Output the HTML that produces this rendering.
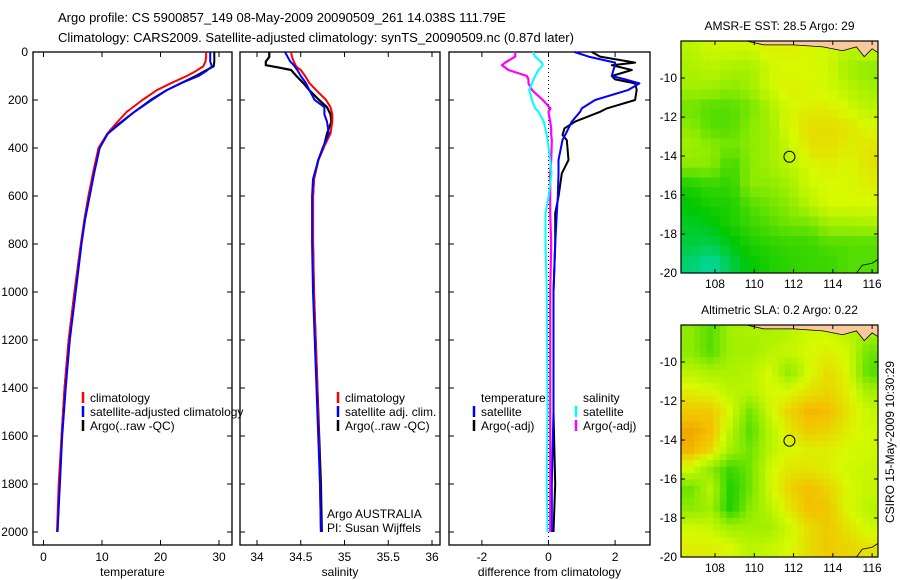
<!DOCTYPE html>
<html><head><meta charset="utf-8"><style>
html,body{margin:0;padding:0;background:#fff;}
svg{display:block;font-family:"Liberation Sans",sans-serif;}
</style></head><body>
<svg id="fig" width="900" height="580" viewBox="0 0 900 580" xmlns="http://www.w3.org/2000/svg">
<defs>
<clipPath id="clip-sst-map"><rect x="681" y="41" width="197" height="232"/></clipPath>
<clipPath id="clip-sla-map"><rect x="681" y="325" width="197" height="232"/></clipPath>
</defs>
<text x="58" y="22" font-size="13">Argo profile: CS 5900857_149 08-May-2009 20090509_261 14.038S 111.79E</text>
<text x="58" y="42" font-size="13">Climatology: CARS2009. Satellite-adjusted climatology: synTS_20090509.nc (0.87d later)</text>
<g id="g"></g>
</svg>
<script>
// ---- profile data ----
const tempDepth = [0,20,40,60,80,100,130,160,200,250,300,340,400,500,600,700,800,1000,1200,1400,1600,1800,2000];
const argoTemp = [29.2,29.2,29.2,29.1,27.5,26,23.5,21,18.3,15.5,13,11,9.5,8.6,7.7,7,6.4,5.3,4.3,3.6,3.1,2.7,2.4];
const climTemp = [27.8,27.8,27.7,27.3,26.0,24.5,21.8,19.3,16.9,14.2,12.3,10.9,9.4,8.5,7.7,7,6.4,5.3,4.3,3.6,3.1,2.6,2.3];
const satTemp = [28.5,28.5,28.5,28.8,27.8,26.5,23.5,21,18.5,15.5,12.8,11,9.6,8.7,7.9,7.1,6.5,5.5,4.5,3.8,3.2,2.8,2.4];
const salDepth = [0,20,40,55,65,75,100,130,160,200,230,260,290,340,400,450,530,600,800,1000,1400,1800,2000];
const argoSal = [34.14,34.14,34.1,34.1,34.25,34.39,34.45,34.53,34.6,34.71,34.8,34.84,34.85,34.8,34.76,34.7,34.65,34.64,34.64,34.65,34.69,34.73,34.74];
const climSal = [34.39,34.4,34.42,34.44,34.46,34.5,34.55,34.6,34.68,34.79,34.84,34.86,34.86,34.84,34.76,34.7,34.65,34.64,34.64,34.65,34.69,34.72,34.73];
const satSal = [34.32,34.35,34.38,34.42,34.44,34.46,34.5,34.56,34.6,34.66,34.77,34.77,34.8,34.82,34.75,34.7,34.64,34.63,34.63,34.64,34.68,34.72,34.73];
const diffDepth = [0,19,44,55,75,100,114,131,158,200,235,249,290,318,346,367,450,506,603,672,800,1000,1500,1800,2000];
const argoDiffT = [1.3,1.55,2.6,1.9,2.5,1.9,2.0,2.6,2.65,2.6,1.75,1.55,0.8,0.48,0.42,0.55,0.6,0.4,0.3,0.2,0.2,0.15,0.15,0.2,0.15];
const satDiffT = [0.78,1.2,2.0,2.0,1.95,1.9,2.3,2.73,2.4,1.4,1.0,0.95,0.7,0.6,0.5,0.42,0.3,0.3,0.28,0.25,0.2,0.15,0.15,0.1,0.1];
const argoDiffS = [-1.0,-1.0,-1.3,-1.4,-1.2,-0.65,-0.6,-0.6,-0.5,-0.17,0.06,0.0,0.05,0.08,0.08,0.1,0.08,0.05,0.05,0.05,0.08,0.05,0.05,0.05,0.05];
const satDiffS = [-0.47,-0.4,-0.2,-0.17,-0.3,-0.4,-0.45,-0.5,-0.58,-0.5,-0.4,-0.3,-0.14,-0.1,-0.05,-0.03,0.05,0.09,0.0,-0.09,-0.09,-0.05,-0.03,-0.05,-0.03];
const depthTicks = [0,200,400,600,800,1000,1200,1400,1600,1800,2000];
const tempTicks = [0,10,20,30];
const salTicks = [34,34.5,35,35.5,36];
const diffTicks = [-2,0,2];
// ---- map data (rows: lat -8.5..-19.5, cols: lon 106.8..115.8) ----
const mapLats = [-8.5,-9.5,-10.5,-11.5,-12.5,-13.5,-14.5,-15.5,-16.5,-17.5,-18.5,-19.5];
const mapLons = [106.8,107.8,108.8,109.8,110.8,111.8,112.8,113.8,114.8,115.8];
const sstGrid = [
[0.65,0.7,0.7,0.7,0.75,0.75,0.72,0.7,0.65,0.7],
[0.62,0.65,0.62,0.6,0.7,0.72,0.72,0.7,0.6,0.55],
[0.6,0.6,0.55,0.6,0.7,0.75,0.72,0.7,0.65,0.6],
[0.5,0.45,0.45,0.5,0.62,0.72,0.75,0.75,0.7,0.65],
[0.55,0.45,0.45,0.55,0.6,0.72,0.8,0.8,0.78,0.72],
[0.6,0.55,0.5,0.55,0.6,0.68,0.78,0.8,0.75,0.78],
[0.55,0.55,0.4,0.55,0.6,0.65,0.72,0.75,0.72,0.78],
[0.35,0.4,0.38,0.55,0.55,0.6,0.7,0.72,0.72,0.75],
[0.3,0.35,0.35,0.45,0.5,0.55,0.65,0.72,0.72,0.72],
[0.25,0.28,0.35,0.4,0.45,0.5,0.5,0.6,0.6,0.62],
[0.22,0.2,0.28,0.35,0.38,0.4,0.4,0.45,0.45,0.45],
[0.15,0.08,0.2,0.3,0.35,0.38,0.4,0.4,0.45,0.45]];
const slaGrid = [
[0.55,0.45,0.6,0.62,0.62,0.65,0.7,0.7,0.65,0.6],
[0.55,0.45,0.6,0.6,0.65,0.68,0.72,0.75,0.7,0.5],
[0.65,0.62,0.62,0.65,0.72,0.55,0.72,0.8,0.72,0.45],
[0.75,0.72,0.65,0.65,0.72,0.72,0.78,0.82,0.75,0.6],
[0.85,0.85,0.72,0.5,0.7,0.82,0.9,0.88,0.78,0.68],
[0.92,0.88,0.65,0.45,0.65,0.78,0.85,0.82,0.75,0.7],
[0.9,0.82,0.6,0.5,0.65,0.72,0.75,0.75,0.72,0.7],
[0.7,0.55,0.4,0.5,0.7,0.78,0.78,0.75,0.7,0.68],
[0.5,0.65,0.35,0.5,0.7,0.82,0.88,0.82,0.72,0.68],
[0.55,0.6,0.35,0.55,0.65,0.78,0.88,0.85,0.72,0.65],
[0.7,0.68,0.6,0.6,0.6,0.7,0.8,0.85,0.78,0.7],
[0.75,0.75,0.72,0.65,0.68,0.72,0.8,0.85,0.82,0.78]];
const latTicks = [-10,-12,-14,-16,-18,-20];
const lonTicks = [108,110,112,114,116];
const argoLon = 111.79, argoLat = -14.038;

const NS='http://www.w3.org/2000/svg';
const G=document.getElementById('g');
function mk(tag,attrs,parent){const e=document.createElementNS(NS,tag);for(const k in attrs)e.setAttribute(k,attrs[k]);(parent||G).appendChild(e);return e;}
function txt(x,y,s,attrs,parent){const e=mk('text',Object.assign({x:x,y:y,'font-size':12},attrs||{}),parent);e.textContent=s;return e;}

const TOP=52,BOT=545;
function yD(d){return TOP+d*0.24;}

function panel(name,L,R,x0,pxPerUnit,xt,fmt,label){
  const g=mk('g',{});
  
  
  const xs=v=>x0+v*pxPerUnit;
  const fr=mk('rect',{x:L,y:TOP,width:R-L,height:BOT-TOP,fill:'none',stroke:'#000','stroke-width':1.3},g);
  
  
  depthTicks.forEach(d=>{
    mk('line',{x1:L,x2:L+5,y1:yD(d),y2:yD(d),stroke:'#000'},g);
    mk('line',{x1:R-5,x2:R,y1:yD(d),y2:yD(d),stroke:'#000'},g);
  });
  xt.forEach(v=>{
    const x=xs(v);
    mk('line',{x1:x,x2:x,y1:BOT,y2:BOT-5,stroke:'#000'},g);
    mk('line',{x1:x,x2:x,y1:TOP,y2:TOP+5,stroke:'#000'},g);
    const t=txt(x,561,fmt(v),{'text-anchor':'middle'},g);
    
    
  });
  const al=txt((L+R)/2,576,label,{'text-anchor':'middle'},g);
  
  
  return {g:g,xs:xs};
}
function line(p,depths,vals,color,w,name){
  const pts=depths.map((d,i)=>p.xs(vals[i]).toFixed(1)+','+yD(d).toFixed(1)).join(' ');
  const e=mk('polyline',{points:pts,fill:'none',stroke:color,'stroke-width':w,'stroke-linejoin':'round'},p.g);
  
  
}
function legend(p,x,y,color,label,name){
  const l=mk('line',{x1:x,x2:x,y1:y-10,y2:y+1,stroke:color,'stroke-width':2.5},p.g);
  
  
  const t=txt(x+7,y,label,{},p.g);
  
  
}

depthTicks.forEach(d=>{
  const t=txt(28,yD(d)+4,String(d),{'text-anchor':'end'});
  
  
});

const p1=panel('temperature-panel',33,232,43.5,5.85,tempTicks,v=>String(v),'temperature');
line(p1,tempDepth,argoTemp,'#000',2,'argo-temperature-line');
line(p1,tempDepth,climTemp,'#f00',2,'climatology-temperature-line');
line(p1,tempDepth,satTemp,'#00f',2,'satellite-temperature-line');
legend(p1,83,402,'#f00','climatology','legend-climatology');
legend(p1,83,416,'#00f','satellite-adjusted climatology','legend-satellite-adjusted');
legend(p1,83,430,'#000','Argo(..raw -QC)','legend-argo');

const p2=panel('salinity-panel',240,440,257-34*87.5,87.5,salTicks,v=>String(v),'salinity');
line(p2,salDepth,argoSal,'#000',2.2,'argo-salinity-line');
line(p2,salDepth,climSal,'#f00',2,'climatology-salinity-line');
line(p2,salDepth,satSal,'#00f',2,'satellite-salinity-line');
legend(p2,338,402,'#f00','climatology','legend-sal-climatology');
legend(p2,338,416,'#00f','satellite adj. clim.','legend-sal-satellite');
legend(p2,338,430,'#000','Argo(..raw -QC)','legend-sal-argo');
let t=txt(327,518,'Argo AUSTRALIA',{},p2.g);
t=txt(327,532,'PI: Susan Wijffels',{},p2.g);

const p3=panel('difference-panel',449,650,548.5,33.3,diffTicks,v=>String(v),'difference from climatology');
const zl=mk('line',{x1:548.5,x2:548.5,y1:TOP,y2:BOT,stroke:'#000','stroke-dasharray':'1,3'},p3.g);


line(p3,diffDepth,argoDiffT,'#000',2,'argo-temp-diff-line');
line(p3,diffDepth,satDiffT,'#00f',2,'satellite-temp-diff-line');
line(p3,diffDepth,argoDiffS,'#f0f',2.2,'argo-sal-diff-line');
line(p3,diffDepth,satDiffS,'#0ff',2,'satellite-sal-diff-line');
t=txt(481,402,'temperature',{},p3.g);
t=txt(583,402,'salinity',{},p3.g);
legend(p3,474,416,'#00f','satellite','legend-diff-temp-satellite');
legend(p3,474,430,'#000','Argo(-adj)','legend-diff-temp-argo');
legend(p3,576,416,'#0ff','satellite','legend-diff-sal-satellite');
legend(p3,576,430,'#f0f','Argo(-adj)','legend-diff-sal-argo');

function cmap(v){
  const stops=[[0,[0,220,225]],[0.3,[0,200,0]],[0.55,[140,235,0]],[0.72,[215,250,0]],[0.88,[245,190,0]],[1,[230,120,0]]];
  v=Math.max(0,Math.min(1,v));
  for(let i=1;i<stops.length;i++){if(v<=stops[i][0]){const a=stops[i-1],b=stops[i];const f=(v-a[0])/(b[0]-a[0]);
    return 'rgb('+a[1].map((c,k)=>Math.round(c+(b[1][k]-c)*f)).join(',')+')';}}
  return 'rgb(230,120,0)';
}
function sample(grid,lon,lat){
  let fx=(lon-mapLons[0]), fy=(mapLats[0]-lat);
  fx=Math.max(0,Math.min(mapLons.length-1.001,fx)); fy=Math.max(0,Math.min(mapLats.length-1.001,fy));
  const i=Math.floor(fy),j=Math.floor(fx),a=fy-i,b=fx-j;
  return grid[i][j]*(1-a)*(1-b)+grid[i][j+1]*(1-a)*b+grid[i+1][j]*a*(1-b)+grid[i+1][j+1]*a*b;
}
function map(name,top,bottom,grid,title,step){
  const L=681,R=878;
  const g=mk('g',{});
  
  
  const cg=mk('g',{'clip-path':'url(#clip-'+name+')'},g);
  
  
  const pxDeg=(bottom-top)/11.9;
  const xs=lon=>L+(lon-106.27)*((R-L)/10.03);
  const ys=lat=>top+(-8.1-lat)*pxDeg;
  for(let lat=-8.1;lat>-20;lat-=step){
    for(let lon=106.27;lon<116.3;lon+=step){
      const c=mk('rect',{x:xs(lon).toFixed(1),y:ys(lat).toFixed(1),width:(step*(R-L)/10.03+0.6).toFixed(1),height:(step*pxDeg+0.6).toFixed(1),fill:cmap(sample(grid,lon+step/2,lat-step/2))},cg);
      
      
    }
  }
  const land=mk('path',{d:'M'+xs(109.6)+','+ys(-8.1)+' L'+xs(110.5)+','+ys(-8.3)+' L'+xs(112)+','+ys(-8.3)+' L'+xs(113.5)+','+ys(-8.4)+' L'+xs(114.5)+','+ys(-8.6)+' L'+xs(115.2)+','+ys(-8.4)+' L'+xs(115.6)+','+ys(-8.9)+' L'+xs(116)+','+ys(-8.5)+' L'+xs(116.3)+','+ys(-8.7)+' L'+xs(116.3)+','+ys(-8.1)+' Z',fill:'#fbc79d',stroke:'#000','stroke-width':0.8},cg);
  
  
  const coast=mk('polyline',{points:[xs(115.2),ys(-20),xs(115.5),ys(-19.6),xs(116),ys(-19.5),xs(116.3),ys(-19.3)].join(' '),fill:'none',stroke:'#000','stroke-width':0.8},cg);
  
  
  const fr=mk('rect',{x:L,y:top,width:R-L,height:bottom-top,fill:'none',stroke:'#000','stroke-width':1.2},g);
  
  
  latTicks.forEach(v=>{
    const y=ys(v);
    mk('line',{x1:L,x2:L+4,y1:y,y2:y,stroke:'#000'},g);
    mk('line',{x1:R-4,x2:R,y1:y,y2:y,stroke:'#000'},g);
    const tl=txt(L-4,y+4,String(v),{'text-anchor':'end'},g);
    
    
  });
  lonTicks.forEach(v=>{
    const x=xs(v);
    mk('line',{x1:x,x2:x,y1:bottom,y2:bottom-4,stroke:'#000'},g);
    mk('line',{x1:x,x2:x,y1:top,y2:top+4,stroke:'#000'},g);
    const tl=txt(x,bottom+15,String(v),{'text-anchor':'middle'},g);
    
    
  });
  const ci=mk('circle',{cx:xs(argoLon),cy:ys(argoLat),r:5.5,fill:'none',stroke:'#000','stroke-width':1},g);
  
  
  const tt=txt((L+R)/2,top-11,title,{'text-anchor':'middle'},g);
  
  
}
map('sst-map',41,273,sstGrid,'AMSR-E SST: 28.5  Argo: 29',0.5);
map('sla-map',325,557,slaGrid,'Altimetric SLA: 0.2  Argo: 0.22',0.33);
t=txt(0,0,'CSIRO 15-May-2009 10:30:29',{'text-anchor':'middle',transform:'translate(894,442) rotate(-90)'});


</script>
</body></html>
